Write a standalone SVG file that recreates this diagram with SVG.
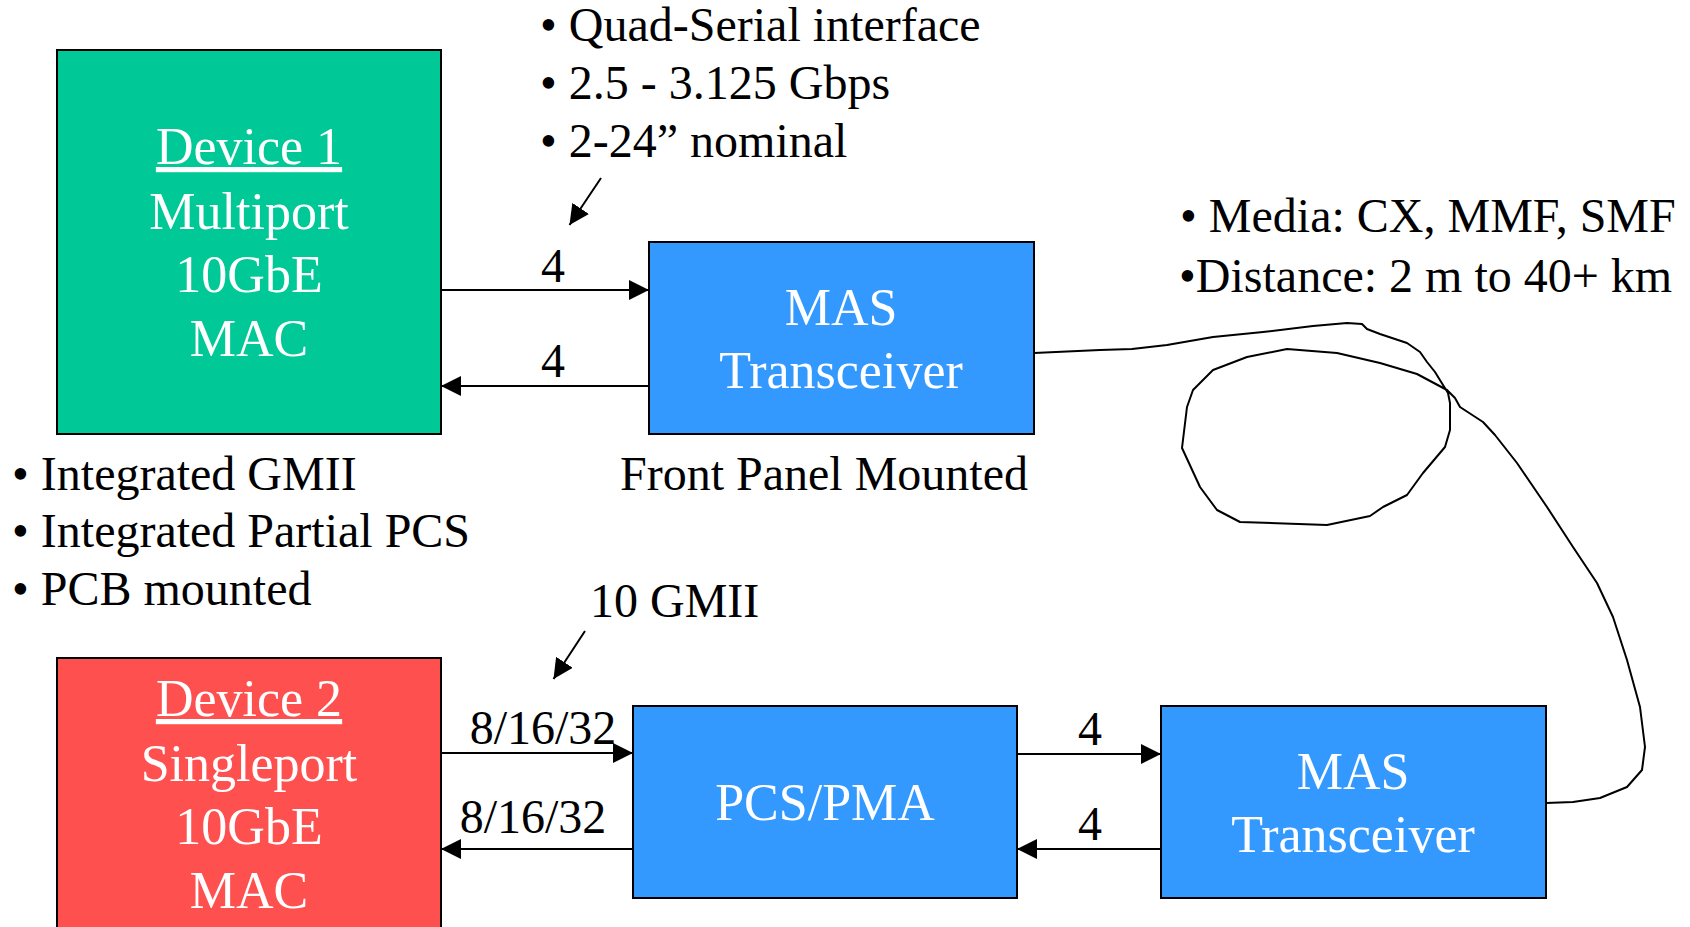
<svg xmlns="http://www.w3.org/2000/svg" width="1690" height="927" viewBox="0 0 1690 927">
<style>
text{font-family:"Liberation Serif","Times New Roman",serif;}
.t{font-size:48px;fill:#000;}
.w{font-size:52px;fill:#fff;text-anchor:middle;}
.c{text-anchor:middle;}
.box{stroke:#000;stroke-width:2;}
.ln{stroke:#000;stroke-width:2;fill:none;}
</style>
<defs>
<marker id="ah" markerUnits="userSpaceOnUse" markerWidth="20" markerHeight="20" refX="20" refY="10" orient="auto">
<path d="M0,0 L20,10 L0,20 z" fill="#000"/>
</marker>
</defs>
<rect width="1690" height="927" fill="#fff"/>

<g id="notes">
<text class="t" x="540" y="41">• Quad-Serial interface</text>
<text class="t" x="540" y="99">• 2.5 - 3.125 Gbps</text>
<text class="t" x="540" y="157">• 2-24” nominal</text>
<text class="t" x="12" y="490">• Integrated GMII</text>
<text class="t" x="12" y="547">• Integrated Partial PCS</text>
<text class="t" x="12" y="605">• PCB mounted</text>
<text class="t" x="620" y="490">Front Panel Mounted</text>
<text class="t" x="590" y="617">10 GMII</text>
<text class="t" x="1180" y="232">• Media: CX, MMF, SMF</text>
<text class="t" x="1179" y="292">•Distance: 2 m to 40+ km</text>
</g>

<g id="device1">
<rect class="box" x="57" y="50" width="384" height="384" fill="#00C896"/>
<text class="w" x="249" y="164" text-decoration="underline">Device 1</text>
<text class="w" x="249" y="229">Multiport</text>
<text class="w" x="249" y="292">10GbE</text>
<text class="w" x="249" y="356">MAC</text>
</g>

<g id="mas1">
<rect class="box" x="649" y="242" width="385" height="192" fill="#3399FF"/>
<text class="w" x="841" y="325">MAS</text>
<text class="w" x="841" y="388">Transceiver</text>
</g>

<g id="device2">
<rect class="box" x="57" y="658" width="384" height="300" fill="#FF5050"/>
<text class="w" x="249" y="716" text-decoration="underline">Device 2</text>
<text class="w" x="249" y="781">Singleport</text>
<text class="w" x="249" y="844">10GbE</text>
<text class="w" x="249" y="908">MAC</text>
</g>

<g id="pcspma">
<rect class="box" x="633" y="706" width="384" height="192" fill="#3399FF"/>
<text class="w" x="825" y="820">PCS/PMA</text>
</g>

<g id="mas2">
<rect class="box" x="1161" y="706" width="385" height="192" fill="#3399FF"/>
<text class="w" x="1353" y="789">MAS</text>
<text class="w" x="1353" y="852">Transceiver</text>
</g>

<g id="connectors">
<line class="ln" x1="441" y1="290" x2="649" y2="290" marker-end="url(#ah)"/>
<line class="ln" x1="649" y1="386" x2="441" y2="386" marker-end="url(#ah)"/>
<line class="ln" x1="441" y1="753" x2="633" y2="753" marker-end="url(#ah)"/>
<line class="ln" x1="633" y1="849" x2="441" y2="849" marker-end="url(#ah)"/>
<line class="ln" x1="1017" y1="754" x2="1161" y2="754" marker-end="url(#ah)"/>
<line class="ln" x1="1161" y1="849" x2="1017" y2="849" marker-end="url(#ah)"/>
<line class="ln" x1="601" y1="178" x2="569.5" y2="225" marker-end="url(#ah)"/>
<line class="ln" x1="585" y1="631" x2="553.5" y2="679" marker-end="url(#ah)"/>
<path class="ln" stroke-linejoin="round" d="M1034,353 L1100,350 L1132,349 L1167,345 L1213,337 L1263,332 L1313,326 L1347,323 L1362,324 L1367,329 L1380,334 L1407,343 L1420,352 L1427,362 L1435,372 L1443,385 L1448,393 L1450,403 L1450,430 L1445,447 L1423,473 L1407,495 L1383,507 L1370,516 L1327,525 L1240,522 L1217,510 L1200,487 L1182,448 L1187,407 L1193,390 L1213,370 L1247,357 L1287,349 L1337,353 L1380,363 L1417,374 L1447,390 L1455,398 L1460,407 L1483,422 L1495,435 L1517,463 L1547,507 L1573,547 L1597,583 L1613,617 L1627,660 L1640,707 L1645,747 L1642,770 L1627,787 L1600,798 L1573,802 L1546,803"/>
<text class="t c" x="553" y="282">4</text>
<text class="t c" x="553" y="377">4</text>
<text class="t c" x="543" y="744">8/16/32</text>
<text class="t c" x="533" y="833">8/16/32</text>
<text class="t c" x="1090" y="745">4</text>
<text class="t c" x="1090" y="840">4</text>
</g>
</svg>
